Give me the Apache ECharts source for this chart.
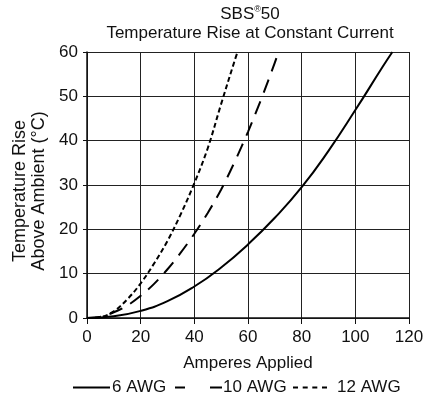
<!DOCTYPE html>
<html><head><meta charset="utf-8">
<script src="https://cdn.jsdelivr.net/npm/echarts@6/dist/echarts.min.js"></script>
<style>html,body{margin:0;padding:0;background:#fff}#c{width:434px;height:407px}</style>
</head><body><div id="c"></div>
<script>
const xTicks = [0, 20, 40, 60, 80, 100, 120];
const yTicks = [0, 10, 20, 30, 40, 50, 60];
const awg6 = [[0,0],[10,0.4],[20,1.6],[30,3.8],[40,7.1],[50,11.4],[60,16.6],[70,22.6],[80,29.5],[90,37.7],[100,46.9],[110,56.5],[113.8,60]];
const awg10 = [[0,0],[5,0.3],[10,1.3],[15,2.8],[20,5],[25,7.7],[30,11],[35,14.8],[40,19],[45,23.7],[50,29],[55,35.2],[60,42],[65,49.5],[70,57.6],[71.3,60]];
const awg12 = [[0,0],[5,0.2],[10,1.5],[15,4.2],[20,7.8],[25,12.3],[30,17.4],[35,23.5],[40,30.4],[45,38.3],[50,48.3],[55,58],[56.1,60]];
const font = 'Liberation Sans, Arial, sans-serif';
const lgText = { fontFamily: font, fontSize: 17, color: '#111' };
const chart = echarts.init(document.getElementById('c'));
chart.setOption({
  animation: false,
  title: {
    text: 'SBS{s|®}50\nTemperature Rise at Constant Current',
    left: 245, top: 0, textAlign: 'center',
    textStyle: { fontFamily: font, fontSize: 17, fontWeight: 'normal', color: '#111', lineHeight: 19,
      rich: { s: { fontSize: 9, verticalAlign: 'top', lineHeight: 19, fontFamily: font, color: '#111' } } }
  },
  grid: { left: 87, right: 25, top: 52, bottom: 89 },
  xAxis: {
    type: 'value', min: 0, max: 120, interval: 20,
    name: 'Amperes Applied', nameLocation: 'middle', nameGap: 37,
    nameTextStyle: { fontFamily: font, fontSize: 17, color: '#111' },
    axisLine: { show: true, lineStyle: { color: '#111', width: 1.5 } },
    axisTick: { show: true, length: 6, lineStyle: { color: '#111' } },
    axisLabel: { fontFamily: font, fontSize: 17, color: '#111', margin: 11,
      formatter: v => xTicks.includes(v) ? String(v) : '' },
    splitLine: { show: true, lineStyle: { color: '#222', width: 1 } }
  },
  yAxis: {
    type: 'value', min: 0, max: 60, interval: 10,
    name: 'Temperature Rise\nAbove Ambient (°C)', nameLocation: 'middle', nameGap: 34, nameRotate: 90,
    nameTextStyle: { fontFamily: font, fontSize: 18, color: '#111', lineHeight: 19, padding: [0, 12, 0, 0] },
    axisLine: { show: true, lineStyle: { color: '#111', width: 1.5 } },
    axisTick: { show: true, length: 4, lineStyle: { color: '#111' } },
    axisLabel: { fontFamily: font, fontSize: 17, color: '#111', margin: 9,
      formatter: v => yTicks.includes(v) ? String(v) : '' },
    splitLine: { show: true, lineStyle: { color: '#222', width: 1 } }
  },
  legend: [
    { top: 377, left: 71, itemWidth: 37, itemHeight: 2, padding: 2,
      textStyle: Object.assign({ padding: [0, 0, 0, -3] }, lgText),
      data: [{ name: '6 AWG', icon: 'path://M0,0h37v2h-37z' }] },
    { top: 377, left: 173, itemWidth: 47, itemHeight: 2, padding: 2,
      textStyle: Object.assign({ padding: [0, 0, 0, -4] }, lgText),
      data: [{ name: '10 AWG', icon: 'path://M0,0h10v2h-10z M35,0h12v2h-12z' }] },
    { top: 377, left: 291, itemWidth: 34, itemHeight: 2, padding: 2,
      textStyle: Object.assign({ padding: [0, 0, 0, 5] }, lgText),
      data: [{ name: '12 AWG', icon: 'path://M0,0h5v2h-5z M9.7,0h5v2h-5z M19.3,0h5v2h-5z M29,0h5v2h-5z' }] }
  ],
  series: [
    { name: '6 AWG', type: 'line', data: awg6, smooth: 0.5, symbol: 'none', clip: true,
      lineStyle: { color: '#000', width: 2, type: 'solid' }, itemStyle: { color: '#000' } },
    { name: '10 AWG', type: 'line', data: awg10, smooth: 0.35, symbol: 'none', clip: true,
      lineStyle: { color: '#000', width: 2, type: [14, 9] }, itemStyle: { color: '#000' } },
    { name: '12 AWG', type: 'line', data: awg12, smooth: 0.35, symbol: 'none', clip: true,
      lineStyle: { color: '#000', width: 2, type: [5, 3] }, itemStyle: { color: '#000' } }
  ]
});
</script></body></html>
